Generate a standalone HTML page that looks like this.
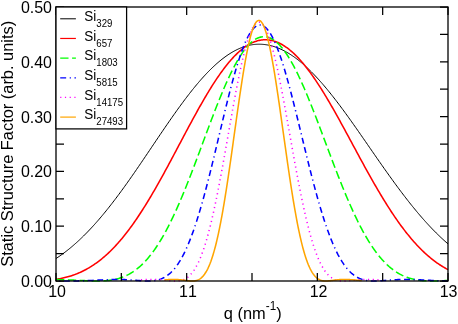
<!DOCTYPE html>
<html><head><meta charset="utf-8"><style>
html,body{margin:0;padding:0;background:#fff;}
svg{display:block;font-family:"Liberation Sans",sans-serif;will-change:transform;font-kerning:none;}
</style></head><body>
<svg width="458" height="324" viewBox="0 0 458 324">
<rect width="458" height="324" fill="#fff"/>
<g>
<path d="M56.00,258.55 L56.98,257.90 L57.96,257.24 L58.95,256.57 L59.93,255.89 L60.91,255.19 L61.89,254.49 L62.88,253.77 L63.86,253.04 L64.84,252.30 L65.82,251.55 L66.81,250.79 L67.79,250.01 L68.77,249.23 L69.75,248.43 L70.74,247.62 L71.72,246.79 L72.70,245.96 L73.68,245.11 L74.67,244.26 L75.65,243.39 L76.63,242.51 L77.61,241.62 L78.60,240.71 L79.58,239.80 L80.56,238.87 L81.54,237.93 L82.53,236.98 L83.51,236.02 L84.49,235.04 L85.47,234.06 L86.46,233.06 L87.44,232.06 L88.42,231.04 L89.40,230.01 L90.39,228.97 L91.37,227.91 L92.35,226.85 L93.33,225.78 L94.32,224.69 L95.30,223.60 L96.28,222.49 L97.26,221.37 L98.25,220.24 L99.23,219.11 L100.21,217.96 L101.19,216.80 L102.18,215.63 L103.16,214.45 L104.14,213.26 L105.12,212.07 L106.11,210.86 L107.09,209.64 L108.07,208.41 L109.05,207.18 L110.04,205.93 L111.02,204.68 L112.00,203.42 L112.98,202.14 L113.96,200.86 L114.95,199.58 L115.93,198.28 L116.91,196.97 L117.89,195.66 L118.88,194.34 L119.86,193.01 L120.84,191.68 L121.82,190.34 L122.81,188.99 L123.79,187.63 L124.77,186.27 L125.75,184.90 L126.74,183.52 L127.72,182.14 L128.70,180.75 L129.68,179.36 L130.67,177.96 L131.65,176.56 L132.63,175.15 L133.61,173.74 L134.60,172.32 L135.58,170.90 L136.56,169.47 L137.54,168.04 L138.53,166.61 L139.51,165.17 L140.49,163.73 L141.47,162.29 L142.46,160.84 L143.44,159.39 L144.42,157.94 L145.40,156.49 L146.39,155.03 L147.37,153.58 L148.35,152.12 L149.33,150.66 L150.32,149.20 L151.30,147.74 L152.28,146.28 L153.26,144.82 L154.25,143.36 L155.23,141.91 L156.21,140.45 L157.19,138.99 L158.18,137.54 L159.16,136.08 L160.14,134.63 L161.12,133.18 L162.11,131.74 L163.09,130.29 L164.07,128.85 L165.05,127.42 L166.04,125.98 L167.02,124.55 L168.00,123.13 L168.98,121.71 L169.96,120.29 L170.95,118.88 L171.93,117.47 L172.91,116.07 L173.89,114.68 L174.88,113.29 L175.86,111.91 L176.84,110.53 L177.82,109.16 L178.81,107.80 L179.79,106.45 L180.77,105.11 L181.75,103.77 L182.74,102.44 L183.72,101.12 L184.70,99.81 L185.68,98.51 L186.67,97.21 L187.65,95.93 L188.63,94.66 L189.61,93.40 L190.60,92.15 L191.58,90.90 L192.56,89.67 L193.54,88.46 L194.53,87.25 L195.51,86.06 L196.49,84.87 L197.47,83.70 L198.46,82.55 L199.44,81.40 L200.42,80.27 L201.40,79.15 L202.39,78.05 L203.37,76.96 L204.35,75.88 L205.33,74.82 L206.32,73.78 L207.30,72.74 L208.28,71.73 L209.26,70.73 L210.25,69.74 L211.23,68.77 L212.21,67.82 L213.19,66.88 L214.18,65.96 L215.16,65.05 L216.14,64.16 L217.12,63.29 L218.11,62.44 L219.09,61.61 L220.07,60.79 L221.05,59.99 L222.04,59.20 L223.02,58.44 L224.00,57.69 L224.98,56.97 L225.96,56.26 L226.95,55.57 L227.93,54.90 L228.91,54.25 L229.89,53.61 L230.88,53.00 L231.86,52.41 L232.84,51.84 L233.82,51.28 L234.81,50.75 L235.79,50.24 L236.77,49.74 L237.75,49.27 L238.74,48.82 L239.72,48.39 L240.70,47.98 L241.68,47.59 L242.67,47.22 L243.65,46.87 L244.63,46.54 L245.61,46.24 L246.60,45.95 L247.58,45.69 L248.56,45.45 L249.54,45.23 L250.53,45.03 L251.51,44.85 L252.49,44.69 L253.47,44.56 L254.46,44.45 L255.44,44.36 L256.42,44.29 L257.40,44.24 L258.39,44.21 L259.37,44.21 L260.35,44.22 L261.33,44.26 L262.32,44.32 L263.30,44.40 L264.28,44.49 L265.26,44.61 L266.25,44.75 L267.23,44.91 L268.21,45.09 L269.19,45.29 L270.18,45.51 L271.16,45.76 L272.14,46.02 L273.12,46.30 L274.11,46.60 L275.09,46.92 L276.07,47.26 L277.05,47.63 L278.04,48.01 L279.02,48.41 L280.00,48.83 L280.98,49.27 L281.96,49.73 L282.95,50.21 L283.93,50.71 L284.91,51.23 L285.89,51.76 L286.88,52.32 L287.86,52.89 L288.84,53.48 L289.82,54.10 L290.81,54.73 L291.79,55.37 L292.77,56.04 L293.75,56.72 L294.74,57.42 L295.72,58.14 L296.70,58.88 L297.68,59.64 L298.67,60.41 L299.65,61.20 L300.63,62.00 L301.61,62.82 L302.60,63.66 L303.58,64.52 L304.56,65.39 L305.54,66.27 L306.53,67.18 L307.51,68.09 L308.49,69.03 L309.47,69.98 L310.46,70.94 L311.44,71.92 L312.42,72.91 L313.40,73.92 L314.39,74.94 L315.37,75.97 L316.35,77.02 L317.33,78.08 L318.32,79.16 L319.30,80.25 L320.28,81.35 L321.26,82.46 L322.25,83.59 L323.23,84.73 L324.21,85.88 L325.19,87.04 L326.18,88.21 L327.16,89.39 L328.14,90.59 L329.12,91.79 L330.11,93.01 L331.09,94.24 L332.07,95.47 L333.05,96.72 L334.04,97.97 L335.02,99.24 L336.00,100.51 L336.98,101.79 L337.96,103.08 L338.95,104.38 L339.93,105.68 L340.91,107.00 L341.89,108.32 L342.88,109.65 L343.86,110.98 L344.84,112.32 L345.82,113.67 L346.81,115.02 L347.79,116.38 L348.77,117.75 L349.75,119.12 L350.74,120.49 L351.72,121.87 L352.70,123.26 L353.68,124.64 L354.67,126.04 L355.65,127.43 L356.63,128.83 L357.61,130.24 L358.60,131.64 L359.58,133.05 L360.56,134.46 L361.54,135.87 L362.53,137.29 L363.51,138.71 L364.49,140.12 L365.47,141.54 L366.46,142.96 L367.44,144.38 L368.42,145.80 L369.40,147.23 L370.39,148.65 L371.37,150.07 L372.35,151.49 L373.33,152.91 L374.32,154.33 L375.30,155.74 L376.28,157.16 L377.26,158.57 L378.25,159.99 L379.23,161.40 L380.21,162.80 L381.19,164.21 L382.18,165.61 L383.16,167.01 L384.14,168.40 L385.12,169.80 L386.11,171.18 L387.09,172.57 L388.07,173.95 L389.05,175.33 L390.04,176.70 L391.02,178.06 L392.00,179.42 L392.98,180.78 L393.96,182.13 L394.95,183.48 L395.93,184.82 L396.91,186.15 L397.89,187.48 L398.88,188.80 L399.86,190.12 L400.84,191.42 L401.82,192.73 L402.81,194.02 L403.79,195.31 L404.77,196.59 L405.75,197.86 L406.74,199.13 L407.72,200.38 L408.70,201.63 L409.68,202.88 L410.67,204.11 L411.65,205.33 L412.63,206.55 L413.61,207.76 L414.60,208.96 L415.58,210.15 L416.56,211.33 L417.54,212.50 L418.53,213.67 L419.51,214.82 L420.49,215.97 L421.47,217.10 L422.46,218.23 L423.44,219.34 L424.42,220.45 L425.40,221.55 L426.39,222.63 L427.37,223.71 L428.35,224.78 L429.33,225.83 L430.32,226.88 L431.30,227.91 L432.28,228.94 L433.26,229.95 L434.25,230.96 L435.23,231.95 L436.21,232.93 L437.19,233.90 L438.18,234.86 L439.16,235.81 L440.14,236.75 L441.12,237.68 L442.11,238.60 L443.09,239.51 L444.07,240.40 L445.05,241.29 L446.04,242.16 L447.02,243.02 L448.00,243.87" fill="none" stroke="#000" stroke-width="1.0"/>
<path d="M56.00,279.38 L56.98,279.22 L57.96,279.06 L58.95,278.88 L59.93,278.70 L60.91,278.50 L61.89,278.30 L62.88,278.08 L63.86,277.86 L64.84,277.62 L65.82,277.37 L66.81,277.11 L67.79,276.84 L68.77,276.56 L69.75,276.27 L70.74,275.96 L71.72,275.64 L72.70,275.31 L73.68,274.97 L74.67,274.61 L75.65,274.24 L76.63,273.86 L77.61,273.46 L78.60,273.05 L79.58,272.62 L80.56,272.18 L81.54,271.73 L82.53,271.26 L83.51,270.77 L84.49,270.27 L85.47,269.76 L86.46,269.23 L87.44,268.68 L88.42,268.12 L89.40,267.55 L90.39,266.95 L91.37,266.34 L92.35,265.71 L93.33,265.07 L94.32,264.41 L95.30,263.73 L96.28,263.04 L97.26,262.33 L98.25,261.60 L99.23,260.85 L100.21,260.09 L101.19,259.30 L102.18,258.50 L103.16,257.69 L104.14,256.85 L105.12,255.99 L106.11,255.12 L107.09,254.23 L108.07,253.32 L109.05,252.39 L110.04,251.45 L111.02,250.48 L112.00,249.50 L112.98,248.50 L113.96,247.48 L114.95,246.44 L115.93,245.38 L116.91,244.30 L117.89,243.21 L118.88,242.10 L119.86,240.96 L120.84,239.81 L121.82,238.64 L122.81,237.46 L123.79,236.25 L124.77,235.03 L125.75,233.78 L126.74,232.52 L127.72,231.24 L128.70,229.95 L129.68,228.63 L130.67,227.30 L131.65,225.95 L132.63,224.59 L133.61,223.20 L134.60,221.80 L135.58,220.38 L136.56,218.95 L137.54,217.50 L138.53,216.03 L139.51,214.54 L140.49,213.05 L141.47,211.53 L142.46,210.00 L143.44,208.45 L144.42,206.89 L145.40,205.32 L146.39,203.73 L147.37,202.12 L148.35,200.51 L149.33,198.87 L150.32,197.23 L151.30,195.57 L152.28,193.90 L153.26,192.22 L154.25,190.53 L155.23,188.82 L156.21,187.10 L157.19,185.38 L158.18,183.64 L159.16,181.89 L160.14,180.13 L161.12,178.37 L162.11,176.59 L163.09,174.81 L164.07,173.01 L165.05,171.21 L166.04,169.41 L167.02,167.59 L168.00,165.77 L168.98,163.95 L169.96,162.12 L170.95,160.28 L171.93,158.44 L172.91,156.60 L173.89,154.75 L174.88,152.90 L175.86,151.05 L176.84,149.19 L177.82,147.34 L178.81,145.48 L179.79,143.62 L180.77,141.77 L181.75,139.91 L182.74,138.06 L183.72,136.20 L184.70,134.35 L185.68,132.51 L186.67,130.66 L187.65,128.82 L188.63,126.98 L189.61,125.15 L190.60,123.33 L191.58,121.51 L192.56,119.70 L193.54,117.89 L194.53,116.09 L195.51,114.30 L196.49,112.52 L197.47,110.75 L198.46,108.99 L199.44,107.24 L200.42,105.50 L201.40,103.78 L202.39,102.06 L203.37,100.36 L204.35,98.67 L205.33,97.00 L206.32,95.34 L207.30,93.69 L208.28,92.06 L209.26,90.45 L210.25,88.85 L211.23,87.27 L212.21,85.71 L213.19,84.17 L214.18,82.64 L215.16,81.14 L216.14,79.65 L217.12,78.19 L218.11,76.74 L219.09,75.32 L220.07,73.92 L221.05,72.54 L222.04,71.18 L223.02,69.85 L224.00,68.54 L224.98,67.25 L225.96,65.99 L226.95,64.76 L227.93,63.55 L228.91,62.36 L229.89,61.20 L230.88,60.07 L231.86,58.97 L232.84,57.89 L233.82,56.84 L234.81,55.82 L235.79,54.83 L236.77,53.87 L237.75,52.93 L238.74,52.03 L239.72,51.16 L240.70,50.31 L241.68,49.50 L242.67,48.72 L243.65,47.97 L244.63,47.25 L245.61,46.56 L246.60,45.90 L247.58,45.28 L248.56,44.69 L249.54,44.13 L250.53,43.61 L251.51,43.11 L252.49,42.65 L253.47,42.23 L254.46,41.84 L255.44,41.48 L256.42,41.15 L257.40,40.86 L258.39,40.61 L259.37,40.38 L260.35,40.20 L261.33,40.04 L262.32,39.92 L263.30,39.84 L264.28,39.79 L265.26,39.77 L266.25,39.79 L267.23,39.84 L268.21,39.92 L269.19,40.04 L270.18,40.19 L271.16,40.37 L272.14,40.59 L273.12,40.84 L274.11,41.12 L275.09,41.44 L276.07,41.79 L277.05,42.17 L278.04,42.58 L279.02,43.02 L280.00,43.50 L280.98,44.01 L281.96,44.55 L282.95,45.12 L283.93,45.73 L284.91,46.36 L285.89,47.03 L286.88,47.73 L287.86,48.45 L288.84,49.21 L289.82,50.00 L290.81,50.81 L291.79,51.66 L292.77,52.54 L293.75,53.44 L294.74,54.37 L295.72,55.33 L296.70,56.32 L297.68,57.34 L298.67,58.38 L299.65,59.45 L300.63,60.55 L301.61,61.67 L302.60,62.82 L303.58,63.99 L304.56,65.19 L305.54,66.41 L306.53,67.66 L307.51,68.93 L308.49,70.22 L309.47,71.53 L310.46,72.87 L311.44,74.23 L312.42,75.61 L313.40,77.02 L314.39,78.44 L315.37,79.88 L316.35,81.34 L317.33,82.82 L318.32,84.32 L319.30,85.84 L320.28,87.38 L321.26,88.93 L322.25,90.50 L323.23,92.08 L324.21,93.69 L325.19,95.30 L326.18,96.93 L327.16,98.58 L328.14,100.23 L329.12,101.90 L330.11,103.59 L331.09,105.28 L332.07,106.99 L333.05,108.71 L334.04,110.43 L335.02,112.17 L336.00,113.92 L336.98,115.67 L337.96,117.44 L338.95,119.21 L339.93,120.99 L340.91,122.77 L341.89,124.56 L342.88,126.36 L343.86,128.16 L344.84,129.97 L345.82,131.78 L346.81,133.59 L347.79,135.41 L348.77,137.23 L349.75,139.05 L350.74,140.87 L351.72,142.70 L352.70,144.52 L353.68,146.34 L354.67,148.17 L355.65,149.99 L356.63,151.81 L357.61,153.63 L358.60,155.44 L359.58,157.26 L360.56,159.07 L361.54,160.87 L362.53,162.67 L363.51,164.47 L364.49,166.26 L365.47,168.05 L366.46,169.83 L367.44,171.60 L368.42,173.37 L369.40,175.13 L370.39,176.88 L371.37,178.62 L372.35,180.36 L373.33,182.08 L374.32,183.80 L375.30,185.50 L376.28,187.20 L377.26,188.89 L378.25,190.56 L379.23,192.22 L380.21,193.88 L381.19,195.52 L382.18,197.15 L383.16,198.76 L384.14,200.37 L385.12,201.96 L386.11,203.53 L387.09,205.10 L388.07,206.65 L389.05,208.18 L390.04,209.70 L391.02,211.21 L392.00,212.70 L392.98,214.18 L393.96,215.64 L394.95,217.08 L395.93,218.52 L396.91,219.93 L397.89,221.33 L398.88,222.71 L399.86,224.08 L400.84,225.42 L401.82,226.76 L402.81,228.07 L403.79,229.37 L404.77,230.65 L405.75,231.92 L406.74,233.16 L407.72,234.39 L408.70,235.60 L409.68,236.80 L410.67,237.97 L411.65,239.13 L412.63,240.27 L413.61,241.40 L414.60,242.50 L415.58,243.59 L416.56,244.66 L417.54,245.71 L418.53,246.74 L419.51,247.76 L420.49,248.76 L421.47,249.74 L422.46,250.70 L423.44,251.64 L424.42,252.57 L425.40,253.48 L426.39,254.37 L427.37,255.24 L428.35,256.09 L429.33,256.93 L430.32,257.75 L431.30,258.55 L432.28,259.34 L433.26,260.11 L434.25,260.86 L435.23,261.59 L436.21,262.31 L437.19,263.01 L438.18,263.69 L439.16,264.36 L440.14,265.01 L441.12,265.64 L442.11,266.26 L443.09,266.86 L444.07,267.45 L445.05,268.02 L446.04,268.57 L447.02,269.11 L448.00,269.64" fill="none" stroke="#f00" stroke-width="1.55"/>
<path d="M56.00,279.58 L56.98,279.59 L57.96,279.60 L58.95,279.62 L59.93,279.64 L60.91,279.66 L61.89,279.68 L62.88,279.71 L63.86,279.74 L64.84,279.77 L65.82,279.80 L66.81,279.83 L67.79,279.86 L68.77,279.90 L69.75,279.94 L70.74,279.98 L71.72,280.02 L72.70,280.06 L73.68,280.11 L74.67,280.15 L75.65,280.20 L76.63,280.25 L77.61,280.29 L78.60,280.34 L79.58,280.39 L80.56,280.44 L81.54,280.48 L82.53,280.53 L83.51,280.58 L84.49,280.62 L85.47,280.67 L86.46,280.71 L87.44,280.75 L88.42,280.79 L89.40,280.83 L90.39,280.86 L91.37,280.89 L92.35,280.92 L93.33,280.95 L94.32,280.97 L95.30,280.98 L96.28,280.99 L97.26,281.00 L98.25,281.00 L99.23,280.99 L100.21,280.98 L101.19,280.95 L102.18,280.92 L103.16,280.88 L104.14,280.82 L105.12,280.76 L106.11,280.69 L107.09,280.60 L108.07,280.50 L109.05,280.39 L110.04,280.26 L111.02,280.12 L112.00,279.96 L112.98,279.79 L113.96,279.60 L114.95,279.40 L115.93,279.17 L116.91,278.93 L117.89,278.67 L118.88,278.39 L119.86,278.09 L120.84,277.77 L121.82,277.43 L122.81,277.06 L123.79,276.67 L124.77,276.26 L125.75,275.83 L126.74,275.36 L127.72,274.88 L128.70,274.37 L129.68,273.83 L130.67,273.26 L131.65,272.66 L132.63,272.04 L133.61,271.39 L134.60,270.71 L135.58,269.99 L136.56,269.25 L137.54,268.48 L138.53,267.67 L139.51,266.83 L140.49,265.96 L141.47,265.06 L142.46,264.12 L143.44,263.15 L144.42,262.14 L145.40,261.10 L146.39,260.02 L147.37,258.91 L148.35,257.76 L149.33,256.58 L150.32,255.35 L151.30,254.10 L152.28,252.80 L153.26,251.47 L154.25,250.10 L155.23,248.70 L156.21,247.26 L157.19,245.78 L158.18,244.26 L159.16,242.71 L160.14,241.12 L161.12,239.49 L162.11,237.82 L163.09,236.12 L164.07,234.38 L165.05,232.60 L166.04,230.79 L167.02,228.95 L168.00,227.06 L168.98,225.14 L169.96,223.19 L170.95,221.20 L171.93,219.18 L172.91,217.13 L173.89,215.04 L174.88,212.92 L175.86,210.77 L176.84,208.59 L177.82,206.38 L178.81,204.13 L179.79,201.86 L180.77,199.56 L181.75,197.24 L182.74,194.89 L183.72,192.51 L184.70,190.11 L185.68,187.68 L186.67,185.24 L187.65,182.77 L188.63,180.28 L189.61,177.77 L190.60,175.25 L191.58,172.70 L192.56,170.15 L193.54,167.57 L194.53,164.99 L195.51,162.39 L196.49,159.78 L197.47,157.16 L198.46,154.54 L199.44,151.90 L200.42,149.27 L201.40,146.63 L202.39,143.98 L203.37,141.34 L204.35,138.70 L205.33,136.05 L206.32,133.42 L207.30,130.78 L208.28,128.16 L209.26,125.54 L210.25,122.93 L211.23,120.34 L212.21,117.75 L213.19,115.18 L214.18,112.63 L215.16,110.09 L216.14,107.58 L217.12,105.08 L218.11,102.61 L219.09,100.16 L220.07,97.74 L221.05,95.34 L222.04,92.97 L223.02,90.63 L224.00,88.32 L224.98,86.05 L225.96,83.81 L226.95,81.61 L227.93,79.44 L228.91,77.32 L229.89,75.23 L230.88,73.19 L231.86,71.19 L232.84,69.23 L233.82,67.32 L234.81,65.46 L235.79,63.64 L236.77,61.88 L237.75,60.16 L238.74,58.50 L239.72,56.90 L240.70,55.34 L241.68,53.84 L242.67,52.40 L243.65,51.02 L244.63,49.70 L245.61,48.43 L246.60,47.23 L247.58,46.08 L248.56,45.00 L249.54,43.98 L250.53,43.03 L251.51,42.14 L252.49,41.31 L253.47,40.56 L254.46,39.86 L255.44,39.24 L256.42,38.68 L257.40,38.18 L258.39,37.76 L259.37,37.40 L260.35,37.12 L261.33,36.90 L262.32,36.75 L263.30,36.67 L264.28,36.66 L265.26,36.71 L266.25,36.84 L267.23,37.03 L268.21,37.29 L269.19,37.61 L270.18,38.01 L271.16,38.47 L272.14,38.99 L273.12,39.59 L274.11,40.25 L275.09,40.97 L276.07,41.76 L277.05,42.62 L278.04,43.53 L279.02,44.51 L280.00,45.56 L280.98,46.66 L281.96,47.82 L282.95,49.05 L283.93,50.33 L284.91,51.68 L285.89,53.08 L286.88,54.53 L287.86,56.04 L288.84,57.61 L289.82,59.23 L290.81,60.90 L291.79,62.62 L292.77,64.39 L293.75,66.21 L294.74,68.08 L295.72,69.99 L296.70,71.95 L297.68,73.95 L298.67,75.99 L299.65,78.07 L300.63,80.20 L301.61,82.36 L302.60,84.56 L303.58,86.79 L304.56,89.06 L305.54,91.35 L306.53,93.68 L307.51,96.04 L308.49,98.43 L309.47,100.84 L310.46,103.27 L311.44,105.73 L312.42,108.22 L313.40,110.72 L314.39,113.24 L315.37,115.77 L316.35,118.32 L317.33,120.89 L318.32,123.47 L319.30,126.06 L320.28,128.66 L321.26,131.26 L322.25,133.87 L323.23,136.49 L324.21,139.11 L325.19,141.73 L326.18,144.36 L327.16,146.98 L328.14,149.60 L329.12,152.21 L330.11,154.82 L331.09,157.43 L332.07,160.02 L333.05,162.61 L334.04,165.19 L335.02,167.75 L336.00,170.30 L336.98,172.84 L337.96,175.36 L338.95,177.87 L339.93,180.35 L340.91,182.82 L341.89,185.27 L342.88,187.70 L343.86,190.10 L344.84,192.48 L345.82,194.84 L346.81,197.18 L347.79,199.48 L348.77,201.76 L349.75,204.02 L350.74,206.24 L351.72,208.44 L352.70,210.61 L353.68,212.74 L354.67,214.85 L355.65,216.92 L356.63,218.96 L357.61,220.97 L358.60,222.95 L359.58,224.89 L360.56,226.80 L361.54,228.67 L362.53,230.51 L363.51,232.31 L364.49,234.08 L365.47,235.81 L366.46,237.50 L367.44,239.16 L368.42,240.79 L369.40,242.37 L370.39,243.92 L371.37,245.43 L372.35,246.91 L373.33,248.35 L374.32,249.75 L375.30,251.12 L376.28,252.45 L377.26,253.74 L378.25,255.00 L379.23,256.22 L380.21,257.41 L381.19,258.56 L382.18,259.67 L383.16,260.75 L384.14,261.80 L385.12,262.81 L386.11,263.78 L387.09,264.73 L388.07,265.63 L389.05,266.51 L390.04,267.35 L391.02,268.17 L392.00,268.95 L392.98,269.70 L393.96,270.42 L394.95,271.11 L395.93,271.76 L396.91,272.40 L397.89,273.00 L398.88,273.57 L399.86,274.12 L400.84,274.64 L401.82,275.14 L402.81,275.60 L403.79,276.05 L404.77,276.47 L405.75,276.87 L406.74,277.24 L407.72,277.59 L408.70,277.92 L409.68,278.23 L410.67,278.52 L411.65,278.79 L412.63,279.04 L413.61,279.27 L414.60,279.48 L415.58,279.68 L416.56,279.86 L417.54,280.03 L418.53,280.18 L419.51,280.31 L420.49,280.43 L421.47,280.54 L422.46,280.63 L423.44,280.71 L424.42,280.78 L425.40,280.84 L426.39,280.89 L427.37,280.93 L428.35,280.96 L429.33,280.98 L430.32,280.99 L431.30,281.00 L432.28,281.00 L433.26,280.99 L434.25,280.98 L435.23,280.96 L436.21,280.94 L437.19,280.92 L438.18,280.89 L439.16,280.86 L440.14,280.82 L441.12,280.78 L442.11,280.74 L443.09,280.70 L444.07,280.66 L445.05,280.62 L446.04,280.57 L447.02,280.52 L448.00,280.48" fill="none" stroke="#0f0" stroke-width="1.55" stroke-dasharray="8.32,3.56"/>
<path d="M56.00,280.91 L56.98,280.92 L57.96,280.93 L58.95,280.94 L59.93,280.95 L60.91,280.96 L61.89,280.97 L62.88,280.98 L63.86,280.99 L64.84,280.99 L65.82,281.00 L66.81,281.00 L67.79,281.00 L68.77,281.00 L69.75,281.00 L70.74,280.99 L71.72,280.99 L72.70,280.98 L73.68,280.97 L74.67,280.96 L75.65,280.95 L76.63,280.93 L77.61,280.91 L78.60,280.89 L79.58,280.87 L80.56,280.85 L81.54,280.82 L82.53,280.79 L83.51,280.76 L84.49,280.73 L85.47,280.69 L86.46,280.66 L87.44,280.62 L88.42,280.58 L89.40,280.53 L90.39,280.49 L91.37,280.44 L92.35,280.40 L93.33,280.35 L94.32,280.30 L95.30,280.25 L96.28,280.20 L97.26,280.15 L98.25,280.10 L99.23,280.05 L100.21,280.00 L101.19,279.95 L102.18,279.90 L103.16,279.86 L104.14,279.81 L105.12,279.77 L106.11,279.73 L107.09,279.69 L108.07,279.65 L109.05,279.62 L110.04,279.59 L111.02,279.56 L112.00,279.54 L112.98,279.52 L113.96,279.50 L114.95,279.49 L115.93,279.48 L116.91,279.48 L117.89,279.48 L118.88,279.49 L119.86,279.50 L120.84,279.52 L121.82,279.54 L122.81,279.57 L123.79,279.60 L124.77,279.64 L125.75,279.68 L126.74,279.73 L127.72,279.78 L128.70,279.83 L129.68,279.89 L130.67,279.96 L131.65,280.02 L132.63,280.09 L133.61,280.16 L134.60,280.24 L135.58,280.31 L136.56,280.39 L137.54,280.46 L138.53,280.53 L139.51,280.61 L140.49,280.68 L141.47,280.74 L142.46,280.80 L143.44,280.86 L144.42,280.90 L145.40,280.94 L146.39,280.97 L147.37,280.99 L148.35,281.00 L149.33,280.99 L150.32,280.97 L151.30,280.92 L152.28,280.85 L153.26,280.76 L154.25,280.64 L155.23,280.49 L156.21,280.31 L157.19,280.10 L158.18,279.86 L159.16,279.57 L160.14,279.25 L161.12,278.89 L162.11,278.48 L163.09,278.03 L164.07,277.53 L165.05,276.97 L166.04,276.37 L167.02,275.71 L168.00,274.99 L168.98,274.21 L169.96,273.37 L170.95,272.47 L171.93,271.50 L172.91,270.46 L173.89,269.35 L174.88,268.17 L175.86,266.92 L176.84,265.59 L177.82,264.19 L178.81,262.70 L179.79,261.14 L180.77,259.49 L181.75,257.77 L182.74,255.96 L183.72,254.06 L184.70,252.08 L185.68,250.02 L186.67,247.87 L187.65,245.63 L188.63,243.31 L189.61,240.89 L190.60,238.40 L191.58,235.81 L192.56,233.14 L193.54,230.39 L194.53,227.55 L195.51,224.63 L196.49,221.62 L197.47,218.54 L198.46,215.38 L199.44,212.14 L200.42,208.82 L201.40,205.44 L202.39,201.98 L203.37,198.45 L204.35,194.86 L205.33,191.21 L206.32,187.49 L207.30,183.72 L208.28,179.90 L209.26,176.03 L210.25,172.12 L211.23,168.16 L212.21,164.17 L213.19,160.14 L214.18,156.09 L215.16,152.01 L216.14,147.91 L217.12,143.80 L218.11,139.68 L219.09,135.55 L220.07,131.43 L221.05,127.31 L222.04,123.20 L223.02,119.10 L224.00,115.03 L224.98,110.99 L225.96,106.97 L226.95,103.00 L227.93,99.07 L228.91,95.18 L229.89,91.36 L230.88,87.59 L231.86,83.88 L232.84,80.25 L233.82,76.69 L234.81,73.21 L235.79,69.81 L236.77,66.51 L237.75,63.31 L238.74,60.20 L239.72,57.20 L240.70,54.31 L241.68,51.53 L242.67,48.87 L243.65,46.34 L244.63,43.93 L245.61,41.65 L246.60,39.51 L247.58,37.50 L248.56,35.63 L249.54,33.91 L250.53,32.33 L251.51,30.91 L252.49,29.63 L253.47,28.50 L254.46,27.53 L255.44,26.72 L256.42,26.07 L257.40,25.57 L258.39,25.23 L259.37,25.06 L260.35,25.04 L261.33,25.18 L262.32,25.47 L263.30,25.91 L264.28,26.51 L265.26,27.26 L266.25,28.16 L267.23,29.21 L268.21,30.41 L269.19,31.76 L270.18,33.24 L271.16,34.87 L272.14,36.64 L273.12,38.55 L274.11,40.59 L275.09,42.75 L276.07,45.05 L277.05,47.47 L278.04,50.01 L279.02,52.67 L280.00,55.43 L280.98,58.31 L281.96,61.29 L282.95,64.37 L283.93,67.55 L284.91,70.81 L285.89,74.16 L286.88,77.60 L287.86,81.10 L288.84,84.69 L289.82,88.33 L290.81,92.04 L291.79,95.80 L292.77,99.62 L293.75,103.48 L294.74,107.38 L295.72,111.32 L296.70,115.29 L297.68,119.28 L298.67,123.30 L299.65,127.33 L300.63,131.37 L301.61,135.41 L302.60,139.46 L303.58,143.50 L304.56,147.53 L305.54,151.55 L306.53,155.55 L307.51,159.53 L308.49,163.48 L309.47,167.41 L310.46,171.29 L311.44,175.14 L312.42,178.95 L313.40,182.71 L314.39,186.42 L315.37,190.07 L316.35,193.67 L317.33,197.22 L318.32,200.70 L319.30,204.11 L320.28,207.46 L321.26,210.74 L322.25,213.95 L323.23,217.09 L324.21,220.15 L325.19,223.13 L326.18,226.04 L327.16,228.86 L328.14,231.61 L329.12,234.28 L330.11,236.86 L331.09,239.36 L332.07,241.78 L333.05,244.11 L334.04,246.36 L335.02,248.53 L336.00,250.61 L336.98,252.62 L337.96,254.54 L338.95,256.37 L339.93,258.13 L340.91,259.81 L341.89,261.41 L342.88,262.93 L343.86,264.37 L344.84,265.74 L345.82,267.03 L346.81,268.26 L347.79,269.41 L348.77,270.49 L349.75,271.51 L350.74,272.46 L351.72,273.35 L352.70,274.17 L353.68,274.94 L354.67,275.65 L355.65,276.30 L356.63,276.90 L357.61,277.45 L358.60,277.95 L359.58,278.40 L360.56,278.81 L361.54,279.18 L362.53,279.50 L363.51,279.79 L364.49,280.04 L365.47,280.25 L366.46,280.44 L367.44,280.59 L368.42,280.72 L369.40,280.82 L370.39,280.90 L371.37,280.95 L372.35,280.98 L373.33,281.00 L374.32,281.00 L375.30,280.98 L376.28,280.96 L377.26,280.93 L378.25,280.88 L379.23,280.83 L380.21,280.78 L381.19,280.72 L382.18,280.65 L383.16,280.58 L384.14,280.51 L385.12,280.44 L386.11,280.37 L387.09,280.29 L388.07,280.22 L389.05,280.15 L390.04,280.08 L391.02,280.01 L392.00,279.95 L392.98,279.88 L393.96,279.83 L394.95,279.77 L395.93,279.72 L396.91,279.68 L397.89,279.64 L398.88,279.60 L399.86,279.57 L400.84,279.54 L401.82,279.52 L402.81,279.50 L403.79,279.49 L404.77,279.48 L405.75,279.48 L406.74,279.48 L407.72,279.49 L408.70,279.50 L409.68,279.51 L410.67,279.53 L411.65,279.55 L412.63,279.58 L413.61,279.61 L414.60,279.64 L415.58,279.68 L416.56,279.71 L417.54,279.75 L418.53,279.80 L419.51,279.84 L420.49,279.89 L421.47,279.93 L422.46,279.98 L423.44,280.03 L424.42,280.08 L425.40,280.13 L426.39,280.18 L427.37,280.22 L428.35,280.27 L429.33,280.32 L430.32,280.37 L431.30,280.42 L432.28,280.46 L433.26,280.51 L434.25,280.55 L435.23,280.59 L436.21,280.63 L437.19,280.67 L438.18,280.70 L439.16,280.74 L440.14,280.77 L441.12,280.80 L442.11,280.83 L443.09,280.85 L444.07,280.88 L445.05,280.90 L446.04,280.92 L447.02,280.93 L448.00,280.95" fill="none" stroke="#00f" stroke-width="1.55" stroke-dasharray="5.95,3.57,5.95,3.57,1.19,3.57" stroke-dashoffset="-7.9"/>
<path d="M140.93,279.91 L141.54,279.87 L142.15,279.83 L142.75,279.79 L143.36,279.75 L143.96,279.72 L144.57,279.69 L145.17,279.65 L145.78,279.62 L146.39,279.60 L146.99,279.57 L147.60,279.55 L148.20,279.53 L148.81,279.51 L149.42,279.49 L150.02,279.48 L150.63,279.47 L151.23,279.47 L151.84,279.46 L152.44,279.46 L153.05,279.47 L153.66,279.47 L154.26,279.48 L154.87,279.50 L155.47,279.51 L156.08,279.53 L156.69,279.56 L157.29,279.59 L157.90,279.62 L158.50,279.65 L159.11,279.69 L159.71,279.73 L160.32,279.77 L160.93,279.82 L161.53,279.87 L162.14,279.92 L162.74,279.98 L163.35,280.03 L163.96,280.09 L164.56,280.15 L165.17,280.21 L165.77,280.27 L166.38,280.34 L166.98,280.40 L167.59,280.46 L168.20,280.52 L168.80,280.58 L169.41,280.64 L170.01,280.70 L170.62,280.75 L171.23,280.80 L171.83,280.85 L172.44,280.89 L173.04,280.92 L173.65,280.95 L174.25,280.98 L174.86,280.99 L175.47,281.00 L176.07,281.00 L176.68,280.98 L177.28,280.95 L177.89,280.91 L178.50,280.85 L179.10,280.78 L179.71,280.69 L180.31,280.57 L180.92,280.44 L181.53,280.29 L182.13,280.11 L182.74,279.91 L183.34,279.68 L183.95,279.43 L184.55,279.15 L185.16,278.84 L185.77,278.50 L186.37,278.13 L186.98,277.73 L187.58,277.29 L188.19,276.81 L188.80,276.30 L189.40,275.75 L190.01,275.16 L190.61,274.53 L191.22,273.86 L191.82,273.15 L192.43,272.39 L193.04,271.58 L193.64,270.73 L194.25,269.83 L194.85,268.88 L195.46,267.88 L196.07,266.83 L196.67,265.73 L197.28,264.58 L197.88,263.37 L198.49,262.11 L199.09,260.79 L199.70,259.41 L200.31,257.98 L200.91,256.49 L201.52,254.95 L202.12,253.34 L202.73,251.68 L203.34,249.95 L203.94,248.17 L204.55,246.33 L205.15,244.43 L205.76,242.46 L206.36,240.44 L206.97,238.36 L207.58,236.22 L208.18,234.02 L208.79,231.76 L209.39,229.44 L210.00,227.06 L210.61,224.63 L211.21,222.13 L211.82,219.59 L212.42,216.98 L213.03,214.33 L213.64,211.62 L214.24,208.86 L214.85,206.04 L215.45,203.18 L216.06,200.27 L216.66,197.32 L217.27,194.31 L217.88,191.27 L218.48,188.18 L219.09,185.06 L219.69,181.89 L220.30,178.69 L220.91,175.46 L221.51,172.19 L222.12,168.90 L222.72,165.58 L223.33,162.23 L223.93,158.86 L224.54,155.47 L225.15,152.07 L225.75,148.65 L226.36,145.22 L226.96,141.78 L227.57,138.33 L228.18,134.88 L228.78,131.43 L229.39,127.98 L229.99,124.54 L230.60,121.10 L231.20,117.68 L231.81,114.27 L232.42,110.88 L233.02,107.51 L233.63,104.16 L234.23,100.84 L234.84,97.55 L235.45,94.29 L236.05,91.07 L236.66,87.89 L237.26,84.75 L237.87,81.66 L238.47,78.61 L239.08,75.62 L239.69,72.68 L240.29,69.80 L240.90,66.97 L241.50,64.21 L242.11,61.52 L242.72,58.90 L243.32,56.35 L243.93,53.87 L244.53,51.47 L245.14,49.15 L245.75,46.91 L246.35,44.75 L246.96,42.68 L247.56,40.70 L248.17,38.81 L248.77,37.01 L249.38,35.31 L249.99,33.70 L250.59,32.19 L251.20,30.78 L251.80,29.48 L252.41,28.27 L253.02,27.17 L253.62,26.18 L254.23,25.29 L254.83,24.51 L255.44,23.84 L256.04,23.27 L256.65,22.82 L257.26,22.48 L257.86,22.24 L258.47,22.12 L259.07,22.11 L259.68,22.21 L260.29,22.41 L260.89,22.72 L261.50,23.14 L262.10,23.67 L262.71,24.31 L263.31,25.05 L263.92,25.90 L264.53,26.85 L265.13,27.90 L265.74,29.06 L266.34,30.31 L266.95,31.67 L267.56,33.12 L268.16,34.67 L268.77,36.32 L269.37,38.06 L269.98,39.89 L270.58,41.81 L271.19,43.82 L271.80,45.91 L272.40,48.09 L273.01,50.34 L273.61,52.68 L274.22,55.09 L274.83,57.58 L275.43,60.14 L276.04,62.76 L276.64,65.45 L277.25,68.21 L277.85,71.02 L278.46,73.90 L279.07,76.83 L279.67,79.81 L280.28,82.84 L280.88,85.91 L281.49,89.03 L282.10,92.19 L282.70,95.39 L283.31,98.62 L283.91,101.88 L284.52,105.17 L285.13,108.49 L285.73,111.83 L286.34,115.18 L286.94,118.56 L287.55,121.94 L288.15,125.34 L288.76,128.75 L289.37,132.16 L289.97,135.57 L290.58,138.98 L291.18,142.39 L291.79,145.79 L292.40,149.18 L293.00,152.55 L293.61,155.92 L294.21,159.27 L294.82,162.59 L295.42,165.90 L296.03,169.18 L296.64,172.43 L297.24,175.66 L297.85,178.85 L298.45,182.02 L299.06,185.14 L299.67,188.23 L300.27,191.28 L300.88,194.29 L301.48,197.26 L302.09,200.18 L302.69,203.06 L303.30,205.89 L303.91,208.68 L304.51,211.41 L305.12,214.09 L305.72,216.72 L306.33,219.30 L306.94,221.83 L307.54,224.30 L308.15,226.71 L308.75,229.07 L309.36,231.37 L309.96,233.62 L310.57,235.80 L311.18,237.93 L311.78,240.00 L312.39,242.01 L312.99,243.97 L313.60,245.86 L314.21,247.70 L314.81,249.48 L315.42,251.20 L316.02,252.86 L316.63,254.46 L317.24,256.01 L317.84,257.50 L318.45,258.93 L319.05,260.31 L319.66,261.64 L320.26,262.90 L320.87,264.12 L321.48,265.28 L322.08,266.39 L322.69,267.45 L323.29,268.46 L323.90,269.42 L324.51,270.33 L325.11,271.19 L325.72,272.01 L326.32,272.78 L326.93,273.51 L327.53,274.19 L328.14,274.84 L328.75,275.44 L329.35,276.01 L329.96,276.53 L330.56,277.02 L331.17,277.48 L331.78,277.90 L332.38,278.28 L332.99,278.64 L333.59,278.96 L334.20,279.26 L334.80,279.52 L335.41,279.76 L336.02,279.98 L336.62,280.17 L337.23,280.34 L337.83,280.48 L338.44,280.61 L339.05,280.71 L339.65,280.80 L340.26,280.87 L340.86,280.92 L341.47,280.96 L342.07,280.99 L342.68,281.00 L343.29,281.00 L343.89,280.99 L344.50,280.97 L345.10,280.95 L345.71,280.92 L346.32,280.88 L346.92,280.84 L347.53,280.80 L348.13,280.75 L348.74,280.69 L349.35,280.64 L349.95,280.58 L350.56,280.52 L351.16,280.46 L351.77,280.40 L352.37,280.34 L352.98,280.27 L353.59,280.21 L354.19,280.15 L354.80,280.09 L355.40,280.04 L356.01,279.98 L356.62,279.93 L357.22,279.87 L357.83,279.82 L358.43,279.78 L359.04,279.73 L359.64,279.69 L360.25,279.66 L360.86,279.62 L361.46,279.59 L362.07,279.56 L362.67,279.54 L363.28,279.52 L363.89,279.50 L364.49,279.49 L365.10,279.47 L365.70,279.47 L366.31,279.46 L366.91,279.46 L367.52,279.46 L368.13,279.47 L368.73,279.48 L369.34,279.49 L369.94,279.50 L370.55,279.52 L371.16,279.54 L371.76,279.56 L372.37,279.59 L372.97,279.61 L373.58,279.64 L374.18,279.67 L374.79,279.70 L375.40,279.74 L376.00,279.77 L376.61,279.81 L377.21,279.85 L377.82,279.89 L378.43,279.93 L379.03,279.97 L379.64,280.01 L380.24,280.05 L380.85,280.09 L381.45,280.13 L382.06,280.17 L382.67,280.21" fill="none" stroke="#f0f" stroke-width="1.55" stroke-dasharray="1.18,3.54"/>
<path d="M164.45,279.91 L164.95,279.87 L165.44,279.83 L165.94,279.79 L166.43,279.76 L166.93,279.72 L167.42,279.69 L167.91,279.65 L168.41,279.62 L168.90,279.59 L169.40,279.57 L169.89,279.54 L170.39,279.52 L170.88,279.50 L171.38,279.49 L171.87,279.47 L172.37,279.46 L172.86,279.46 L173.35,279.45 L173.85,279.45 L174.34,279.46 L174.84,279.46 L175.33,279.47 L175.83,279.49 L176.32,279.51 L176.82,279.53 L177.31,279.55 L177.80,279.58 L178.30,279.61 L178.79,279.65 L179.29,279.69 L179.78,279.73 L180.28,279.78 L180.77,279.83 L181.27,279.88 L181.76,279.93 L182.26,279.99 L182.75,280.05 L183.24,280.11 L183.74,280.17 L184.23,280.24 L184.73,280.30 L185.22,280.36 L185.72,280.43 L186.21,280.49 L186.71,280.55 L187.20,280.62 L187.69,280.67 L188.19,280.73 L188.68,280.78 L189.18,280.83 L189.67,280.88 L190.17,280.91 L190.66,280.95 L191.16,280.97 L191.65,280.99 L192.15,281.00 L192.64,281.00 L193.13,280.99 L193.63,280.96 L194.12,280.92 L194.62,280.86 L195.11,280.78 L195.61,280.69 L196.10,280.57 L196.60,280.44 L197.09,280.28 L197.59,280.10 L198.08,279.89 L198.57,279.65 L199.07,279.39 L199.56,279.10 L200.06,278.78 L200.55,278.42 L201.05,278.04 L201.54,277.61 L202.04,277.15 L202.53,276.66 L203.02,276.12 L203.52,275.54 L204.01,274.92 L204.51,274.26 L205.00,273.55 L205.50,272.80 L205.99,272.00 L206.49,271.15 L206.98,270.26 L207.48,269.31 L207.97,268.31 L208.46,267.25 L208.96,266.15 L209.45,264.98 L209.95,263.77 L210.44,262.49 L210.94,261.16 L211.43,259.76 L211.93,258.31 L212.42,256.80 L212.91,255.23 L213.41,253.59 L213.90,251.90 L214.40,250.14 L214.89,248.32 L215.39,246.44 L215.88,244.49 L216.38,242.48 L216.87,240.41 L217.37,238.27 L217.86,236.08 L218.35,233.82 L218.85,231.49 L219.34,229.11 L219.84,226.66 L220.33,224.16 L220.83,221.60 L221.32,218.97 L221.82,216.29 L222.31,213.55 L222.80,210.76 L223.30,207.91 L223.79,205.01 L224.29,202.06 L224.78,199.05 L225.28,196.00 L225.77,192.90 L226.27,189.76 L226.76,186.57 L227.26,183.34 L227.75,180.08 L228.24,176.77 L228.74,173.43 L229.23,170.06 L229.73,166.66 L230.22,163.24 L230.72,159.78 L231.21,156.31 L231.71,152.82 L232.20,149.31 L232.69,145.78 L233.19,142.25 L233.68,138.71 L234.18,135.16 L234.67,131.61 L235.17,128.06 L235.66,124.52 L236.16,120.99 L236.65,117.46 L237.15,113.95 L237.64,110.46 L238.13,106.99 L238.63,103.55 L239.12,100.13 L239.62,96.74 L240.11,93.39 L240.61,90.07 L241.10,86.80 L241.60,83.57 L242.09,80.39 L242.58,77.25 L243.08,74.18 L243.57,71.16 L244.07,68.20 L244.56,65.30 L245.06,62.47 L245.55,59.71 L246.05,57.03 L246.54,54.42 L247.04,51.88 L247.53,49.43 L248.02,47.07 L248.52,44.78 L249.01,42.59 L249.51,40.49 L250.00,38.49 L250.50,36.58 L250.99,34.76 L251.49,33.05 L251.98,31.44 L252.47,29.93 L252.97,28.53 L253.46,27.24 L253.96,26.06 L254.45,24.98 L254.95,24.02 L255.44,23.17 L255.94,22.43 L256.43,21.81 L256.93,21.30 L257.42,20.91 L257.91,20.63 L258.41,20.47 L258.90,20.43 L259.40,20.50 L259.89,20.69 L260.39,20.99 L260.88,21.40 L261.38,21.94 L261.87,22.58 L262.36,23.34 L262.86,24.21 L263.35,25.19 L263.85,26.28 L264.34,27.48 L264.84,28.79 L265.33,30.20 L265.83,31.72 L266.32,33.34 L266.82,35.06 L267.31,36.88 L267.80,38.79 L268.30,40.80 L268.79,42.91 L269.29,45.10 L269.78,47.38 L270.28,49.75 L270.77,52.20 L271.27,54.73 L271.76,57.34 L272.25,60.02 L272.75,62.77 L273.24,65.59 L273.74,68.48 L274.23,71.43 L274.73,74.44 L275.22,77.51 L275.72,80.63 L276.21,83.80 L276.71,87.02 L277.20,90.28 L277.69,93.58 L278.19,96.92 L278.68,100.29 L279.18,103.69 L279.67,107.12 L280.17,110.57 L280.66,114.05 L281.16,117.54 L281.65,121.05 L282.15,124.56 L282.64,128.09 L283.13,131.62 L283.63,135.15 L284.12,138.68 L284.62,142.20 L285.11,145.72 L285.61,149.23 L286.10,152.72 L286.60,156.20 L287.09,159.66 L287.58,163.09 L288.08,166.50 L288.57,169.89 L289.07,173.24 L289.56,176.57 L290.06,179.86 L290.55,183.11 L291.05,186.33 L291.54,189.50 L292.04,192.63 L292.53,195.72 L293.02,198.76 L293.52,201.75 L294.01,204.70 L294.51,207.59 L295.00,210.43 L295.50,213.22 L295.99,215.95 L296.49,218.62 L296.98,221.24 L297.47,223.80 L297.97,226.30 L298.46,228.75 L298.96,231.13 L299.45,233.45 L299.95,235.71 L300.44,237.90 L300.94,240.04 L301.43,242.11 L301.93,244.12 L302.42,246.07 L302.91,247.96 L303.41,249.78 L303.90,251.54 L304.40,253.24 L304.89,254.88 L305.39,256.46 L305.88,257.98 L306.38,259.44 L306.87,260.84 L307.36,262.18 L307.86,263.46 L308.35,264.69 L308.85,265.86 L309.34,266.97 L309.84,268.04 L310.33,269.04 L310.83,270.00 L311.32,270.91 L311.82,271.77 L312.31,272.58 L312.80,273.34 L313.30,274.05 L313.79,274.73 L314.29,275.36 L314.78,275.94 L315.28,276.49 L315.77,277.00 L316.27,277.47 L316.76,277.90 L317.25,278.30 L317.75,278.66 L318.24,278.99 L318.74,279.29 L319.23,279.56 L319.73,279.81 L320.22,280.02 L320.72,280.21 L321.21,280.38 L321.71,280.52 L322.20,280.65 L322.69,280.75 L323.19,280.83 L323.68,280.89 L324.18,280.94 L324.67,280.98 L325.17,280.99 L325.66,281.00 L326.16,280.99 L326.65,280.98 L327.14,280.96 L327.64,280.93 L328.13,280.89 L328.63,280.85 L329.12,280.81 L329.62,280.75 L330.11,280.70 L330.61,280.64 L331.10,280.58 L331.60,280.52 L332.09,280.46 L332.58,280.40 L333.08,280.33 L333.57,280.27 L334.07,280.20 L334.56,280.14 L335.06,280.08 L335.55,280.02 L336.05,279.96 L336.54,279.91 L337.03,279.86 L337.53,279.81 L338.02,279.76 L338.52,279.71 L339.01,279.67 L339.51,279.63 L340.00,279.60 L340.50,279.57 L340.99,279.54 L341.49,279.52 L341.98,279.50 L342.47,279.48 L342.97,279.47 L343.46,279.46 L343.96,279.45 L344.45,279.45 L344.95,279.45 L345.44,279.46 L345.94,279.47 L346.43,279.48 L346.92,279.49 L347.42,279.51 L347.91,279.53 L348.41,279.55 L348.90,279.58 L349.40,279.60 L349.89,279.63 L350.39,279.66 L350.88,279.70 L351.38,279.73 L351.87,279.77 L352.36,279.81 L352.86,279.85 L353.35,279.89 L353.85,279.93 L354.34,279.97 L354.84,280.01 L355.33,280.05 L355.83,280.10 L356.32,280.14 L356.81,280.18 L357.31,280.23 L357.80,280.27 L358.30,280.31 L358.79,280.35 L359.29,280.39 L359.78,280.43 L360.28,280.47 L360.77,280.51 L361.27,280.55 L361.76,280.58" fill="none" stroke="#ffa500" stroke-width="1.55"/>
</g>
<g stroke="#000" stroke-width="1.25" fill="none"><path d="M56.00,281.0 v-8 M56.00,7.0 v8"/><path d="M121.33,281.0 v-8 M121.33,7.0 v8"/><path d="M186.67,281.0 v-8 M186.67,7.0 v8"/><path d="M252.00,281.0 v-8 M252.00,7.0 v8"/><path d="M317.33,281.0 v-8 M317.33,7.0 v8"/><path d="M382.67,281.0 v-8 M382.67,7.0 v8"/><path d="M448.00,281.0 v-8 M448.00,7.0 v8"/><path d="M56.0,281.00 h8 M448.0,281.00 h-8"/><path d="M56.0,253.60 h8 M448.0,253.60 h-8"/><path d="M56.0,226.20 h8 M448.0,226.20 h-8"/><path d="M56.0,198.80 h8 M448.0,198.80 h-8"/><path d="M56.0,171.40 h8 M448.0,171.40 h-8"/><path d="M56.0,144.00 h8 M448.0,144.00 h-8"/><path d="M56.0,116.60 h8 M448.0,116.60 h-8"/><path d="M56.0,89.20 h8 M448.0,89.20 h-8"/><path d="M56.0,61.80 h8 M448.0,61.80 h-8"/><path d="M56.0,34.40 h8 M448.0,34.40 h-8"/><path d="M56.0,7.00 h8 M448.0,7.00 h-8"/></g>
<g stroke="#000" stroke-width="1.3" fill="none">
<rect x="56.0" y="7.0" width="392.00" height="274.00"/>
</g>
<g fill="#000"><text transform="translate(57.10,297.0) scale(1,1.04)" text-anchor="middle" font-size="16.0">10</text><text transform="translate(187.97,297.0) scale(1,1.04)" text-anchor="middle" font-size="16.0">11</text><text transform="translate(318.63,297.0) scale(1,1.04)" text-anchor="middle" font-size="16.0">12</text><text transform="translate(448.60,297.0) scale(1,1.04)" text-anchor="middle" font-size="16.0">13</text><text transform="translate(52.0,286.90) scale(1,1.04)" text-anchor="end" font-size="16.0">0.00</text><text transform="translate(52.0,232.10) scale(1,1.04)" text-anchor="end" font-size="16.0">0.10</text><text transform="translate(52.0,177.30) scale(1,1.04)" text-anchor="end" font-size="16.0">0.20</text><text transform="translate(52.0,122.50) scale(1,1.04)" text-anchor="end" font-size="16.0">0.30</text><text transform="translate(52.0,67.70) scale(1,1.04)" text-anchor="end" font-size="16.0">0.40</text><text transform="translate(52.0,12.90) scale(1,1.04)" text-anchor="end" font-size="16.0">0.50</text></g>
<g><rect x="56.0" y="7.0" width="70.60" height="121.90" fill="#fff" stroke="#000" stroke-width="1.25"/><path d="M60.2,18.80 H75.9" stroke="#000" stroke-width="1.0"/><text transform="translate(84.3,21.10) scale(1,1.15)" font-size="13.5">Si<tspan font-size="9.65" dy="5.2">329</tspan></text><path d="M60.2,38.46 H75.9" stroke="#f00" stroke-width="1.2"/><text transform="translate(84.3,40.76) scale(1,1.15)" font-size="13.5">Si<tspan font-size="9.65" dy="5.2">657</tspan></text><path d="M60.2,58.12 H75.9" stroke="#0f0" stroke-width="1.2" stroke-dasharray="8.32,3.56"/><text transform="translate(84.3,60.42) scale(1,1.15)" font-size="13.5">Si<tspan font-size="9.65" dy="5.2">1803</tspan></text><path d="M60.2,77.78 H75.9" stroke="#00f" stroke-width="1.2" stroke-dasharray="5.95,3.57,1.19,3.57,5.95,3.57"/><text transform="translate(84.3,80.08) scale(1,1.15)" font-size="13.5">Si<tspan font-size="9.65" dy="5.2">5815</tspan></text><path d="M60.2,97.44 H75.9" stroke="#f0f" stroke-width="1.2" stroke-dasharray="1.18,3.54"/><text transform="translate(84.3,99.74) scale(1,1.15)" font-size="13.5">Si<tspan font-size="9.65" dy="5.2">14175</tspan></text><path d="M60.2,117.10 H75.9" stroke="#ffa500" stroke-width="1.2"/><text transform="translate(84.3,119.40) scale(1,1.15)" font-size="13.5">Si<tspan font-size="9.65" dy="5.2">27493</tspan></text></g>
<text x="223.8" y="318.9" font-size="16.4" fill="#000">q (nm</text>
<text transform="translate(265.8,309.5) scale(1,1.12)" font-size="11.7" fill="#000">-1</text>
<text x="276.3" y="318.9" font-size="16.4" fill="#000">)</text>
<text transform="translate(13.0,143.8) rotate(-90)" text-anchor="middle" font-size="16.4" fill="#000">Static Structure Factor (arb. units)</text>
</svg>
</body></html>
